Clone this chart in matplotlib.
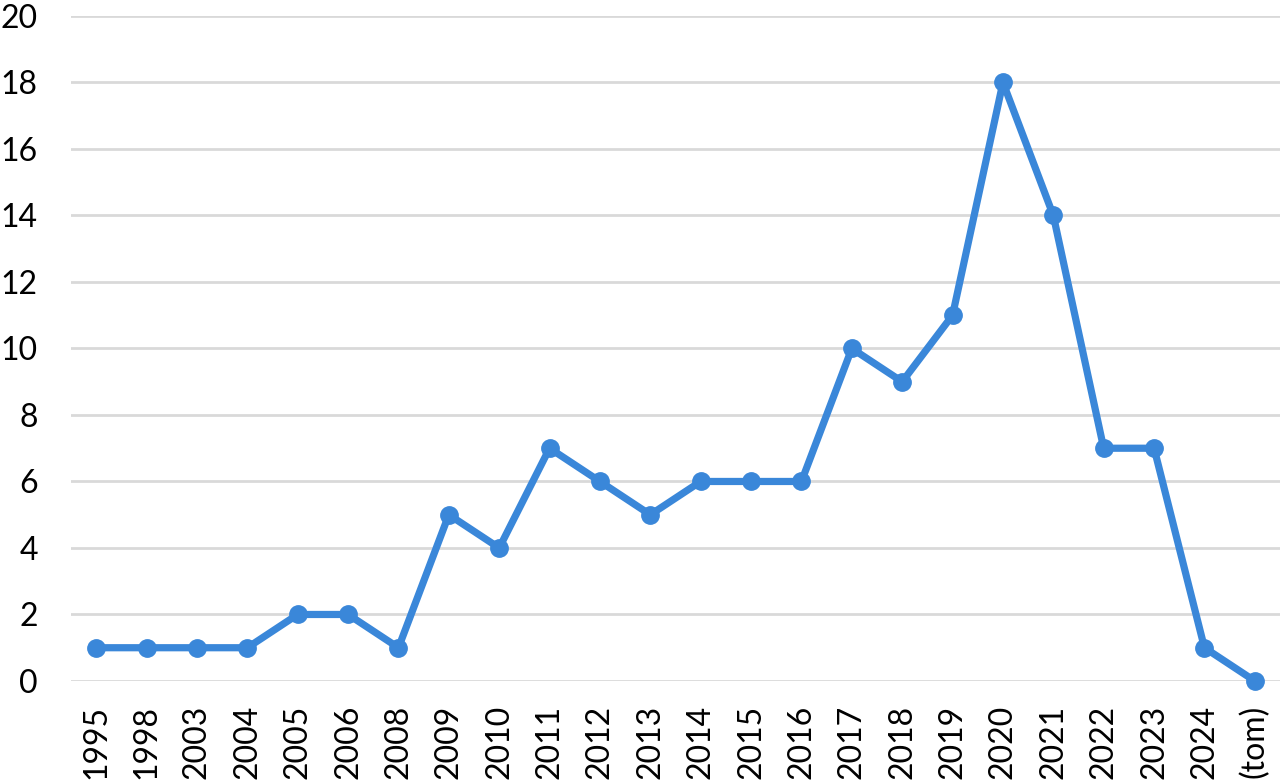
import matplotlib
matplotlib.use("Agg")
import matplotlib.pyplot as plt

years = ['1995', '1998', '2003', '2004', '2005', '2006', '2008', '2009', '2010',
         '2011', '2012', '2013', '2014', '2015', '2016', '2017', '2018', '2019',
         '2020', '2021', '2022', '2023', '2024', '(tom)']
counts = [1, 1, 1, 1, 2, 2, 1, 5, 4, 7, 6, 5, 6, 6, 6, 10, 9, 11, 18, 14, 7, 7, 1, 0]
yticks = list(range(0, 21, 2))

plt.rcParams['font.family'] = ['Lato', 'DejaVu Sans']

fig = plt.figure(figsize=(12.8, 7.83), dpi=100)
ax = fig.add_axes([0.0555, 0.1303, 0.9445, 0.8493])

x = list(range(len(years)))
ax.plot(x, counts, color='#3A87D9', linewidth=5.2, marker='o', markersize=12.5,
        solid_joinstyle='round', solid_capstyle='round', zorder=3, clip_on=False)

ax.set_xlim(-0.5, len(years) - 0.5)
ax.set_ylim(0, 20)
ax.set_yticks(yticks)
ax.set_xticks(x)
ax.set_xticklabels(years, rotation=90)
ax.yaxis.grid(True, color='#D9D9D9', linewidth=2)
ax.set_axisbelow(True)
for s in ax.spines.values():
    s.set_visible(False)
ax.tick_params(axis='y', length=0, pad=24, labelsize=23)
ax.tick_params(axis='x', length=0, pad=17, labelsize=23)

fig.savefig('out.png', dpi=100)
